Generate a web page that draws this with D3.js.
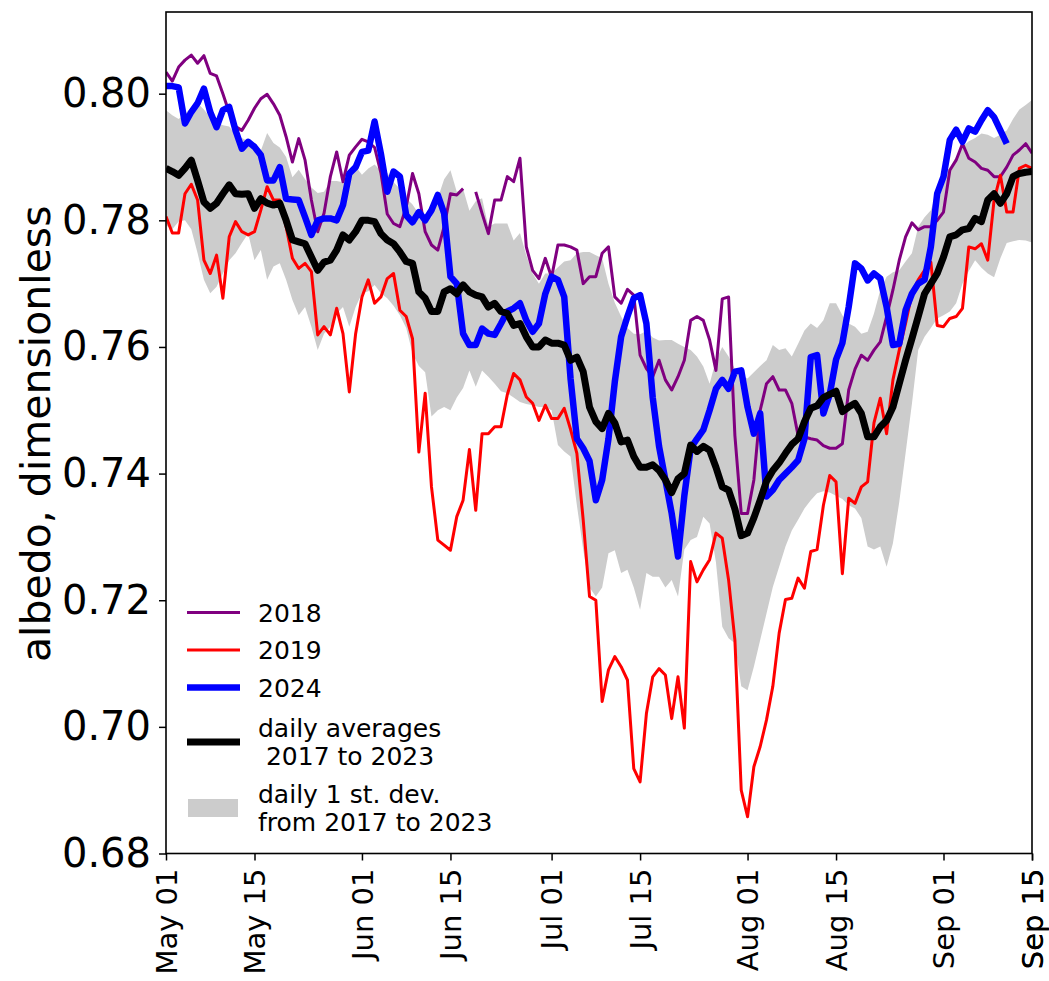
<!DOCTYPE html>
<html lang="en">
  <head>
    <meta charset="UTF-8" />
    <title>albedo May to September</title>
    <style>
      body {
        margin: 0;
        background: #fff;
        font-family: "DejaVu Sans", sans-serif;
      }
      .tick line {
        stroke: #000;
        stroke-width: 1.5px;
      }
      .domain {
        display: none;
      }
    </style>
  </head>
  <body>
    <div id="chart"></div>
    <script src="https://d3js.org/d3.v7.min.js"></script>
    <script>
      // daily values, May 01 .. Sep 15 (138 days)
      const albedo2018 = [
        0.8034, 0.802, 0.8042, 0.8053, 0.8061, 0.8048, 0.806, 0.8032, 0.8028, 0.8,
        0.797, 0.7948, 0.7942, 0.7958, 0.7977, 0.7992, 0.7999, 0.7984, 0.7966, 0.7932,
        0.7892, 0.7929, 0.7895, 0.7832, 0.7782, 0.7811, 0.7869, 0.7908, 0.7861, 0.7903,
        0.7916, 0.7928, 0.7924, 0.7915, 0.7875, 0.781, 0.7795, 0.779, 0.7821, 0.7874,
        0.7842, 0.7782, 0.7761, 0.7753, 0.779, 0.7842, 0.784, 0.785, null, 0.7845,
        0.7811, 0.7779, 0.7832, 0.7832, 0.7869, 0.7861, 0.7898, 0.7758, 0.7721, 0.7708,
        0.774, 0.771, 0.7761, 0.7761, 0.7758, 0.7753, 0.77, 0.7711, 0.7711, 0.7748,
        0.7758, 0.7679, 0.7669, 0.7691, 0.7682, 0.7587, 0.7566, 0.7553, 0.7579, 0.7548,
        0.7532, 0.7553, 0.7579, 0.7642, 0.7648, 0.7642, 0.7611, 0.7563, 0.7676, 0.7679,
        0.746, 0.7337, 0.7337, 0.739, 0.75, 0.7542, 0.7553, 0.7532, 0.7532, 0.7511,
        0.746, 0.7458, 0.7455, 0.7453, 0.7444, 0.744, 0.744, 0.7447, 0.7532, 0.7565,
        0.7587, 0.7579, 0.7595, 0.7608, 0.7648, 0.769, 0.7737, 0.7774, 0.7796, 0.7785,
        0.779, 0.779, 0.78, 0.7813, 0.7879, 0.7895, 0.7921, 0.7898, 0.7892, 0.7882,
        0.7879, 0.7869, 0.7869, 0.7884, 0.7903, 0.7911, 0.7921, 0.7906
      ];

      const albedo2019 = [
        0.7806, 0.778, 0.778, 0.7842, 0.7857, 0.7832, 0.7737, 0.7716, 0.7745, 0.7677,
        0.7774, 0.7798, 0.7782, 0.7777, 0.7782, 0.7816, 0.7853, 0.7832, 0.7832, 0.779,
        0.774, 0.7724, 0.7732, 0.7719, 0.7619, 0.7632, 0.7619, 0.7661, 0.7621, 0.7529,
        0.7621, 0.7679, 0.7706, 0.7669, 0.7679, 0.7708, 0.7716, 0.7658, 0.7648, 0.7613,
        0.7434, 0.7527, 0.7379, 0.7295, 0.7287, 0.7279, 0.7332, 0.7358, 0.7438, 0.7342,
        0.7463, 0.7463, 0.7474, 0.7474, 0.7525, 0.7558, 0.7548, 0.7521, 0.7511, 0.7484,
        0.7508, 0.7487, 0.7487, 0.7503, 0.747, 0.7432, 0.7327, 0.7206, 0.72, 0.704,
        0.709, 0.7111, 0.7095, 0.7074, 0.6934, 0.6913, 0.7021, 0.7079, 0.7092, 0.7082,
        0.7013, 0.7079, 0.6998, 0.7261, 0.7229, 0.7248, 0.7264, 0.7306, 0.7298, 0.7232,
        0.7137, 0.69, 0.6858, 0.6937, 0.6969, 0.7011, 0.7064, 0.7148, 0.7201, 0.7203,
        0.7235, 0.7219, 0.7277, 0.728, 0.735, 0.7397, 0.7387, 0.7242, 0.7361, 0.7353,
        0.7379, 0.7387, 0.748, 0.7519, 0.7463, 0.7548, 0.7595, 0.7637, 0.7684, 0.7706,
        0.7721, 0.7734, 0.7634, 0.7632, 0.7645, 0.7648, 0.7661, 0.7758, 0.7755, 0.7763,
        0.7737, 0.7832, 0.7871, 0.7813, 0.7813, 0.7882, 0.7887, 0.7882
      ];

      const albedo2024 = [
        0.8012, 0.8012, 0.801, 0.7953, 0.7971, 0.7985, 0.8008, 0.7971, 0.7947, 0.7974,
        0.7979, 0.7942, 0.7913, 0.7924, 0.7916, 0.7903, 0.7863, 0.7863, 0.7884, 0.7834,
        0.7833, 0.7832, 0.7805, 0.7777, 0.78, 0.7803, 0.7803, 0.78, 0.7824, 0.7874,
        0.7884, 0.7908, 0.791, 0.7956, 0.7905, 0.7845, 0.7877, 0.7869, 0.7808, 0.7797,
        0.7813, 0.78, 0.7816, 0.784, 0.7811, 0.7711, 0.77, 0.7621, 0.7603, 0.7603,
        0.7629, 0.7621, 0.7619, 0.7637, 0.7656, 0.7661, 0.7669, 0.7642, 0.7624, 0.7637,
        0.7684, 0.7711, 0.7706, 0.7679, 0.755, 0.7455, 0.744, 0.742, 0.7358, 0.739,
        0.7455, 0.7545, 0.7616, 0.7648, 0.7677, 0.7682, 0.7637, 0.752, 0.7443, 0.739,
        0.7337, 0.7269, 0.7365, 0.744, 0.7455, 0.7469, 0.75, 0.7534, 0.7548, 0.7534,
        0.7561, 0.7563, 0.7505, 0.7463, 0.7495, 0.7364, 0.7374, 0.739, 0.74, 0.741,
        0.7421, 0.7455, 0.7584, 0.7587, 0.7495, 0.7525, 0.758, 0.7606, 0.7663, 0.7732,
        0.7724, 0.7705, 0.7716, 0.7708, 0.7663, 0.7603, 0.7605, 0.7658, 0.7684, 0.77,
        0.7706, 0.7758, 0.7842, 0.7869, 0.7927, 0.7943, 0.7924, 0.7945, 0.794, 0.7958,
        0.7974, 0.7963, 0.7942, 0.7921, null, null, null, null
      ];

      const dailyAverage = [
        0.7882, 0.7877, 0.7871, 0.7882, 0.7895, 0.7863, 0.7829, 0.7819, 0.7827, 0.7842,
        0.7856, 0.7842, 0.7841, 0.7842, 0.7819, 0.7834, 0.7827, 0.7824, 0.7827, 0.78,
        0.7769, 0.7766, 0.7763, 0.7742, 0.7721, 0.7734, 0.7737, 0.7753, 0.7777, 0.7769,
        0.7782, 0.78, 0.78, 0.7798, 0.7779, 0.7769, 0.7763, 0.775, 0.7735, 0.7732,
        0.7687, 0.7677, 0.7656, 0.7656, 0.7687, 0.7692, 0.7684, 0.7698, 0.7687, 0.7682,
        0.7679, 0.7663, 0.7669, 0.7656, 0.7653, 0.7634, 0.7637, 0.7616, 0.76, 0.76,
        0.7611, 0.7606, 0.7606, 0.7603, 0.7579, 0.7584, 0.7561, 0.7505, 0.7482, 0.7471,
        0.7495, 0.748, 0.745, 0.7453, 0.7427, 0.741, 0.741, 0.7414, 0.7405, 0.739,
        0.737, 0.7392, 0.74, 0.7445, 0.7435, 0.7443, 0.7437, 0.741, 0.7379, 0.7374,
        0.7344, 0.7302, 0.7306, 0.733, 0.7358, 0.7388, 0.7405, 0.7417, 0.7432, 0.7446,
        0.7455, 0.7482, 0.7503, 0.7507, 0.752, 0.7525, 0.753, 0.7498, 0.7505, 0.7511,
        0.7495, 0.7458, 0.7458, 0.7474, 0.7484, 0.7505, 0.7542, 0.7579, 0.7613, 0.7648,
        0.7684, 0.77, 0.7716, 0.7742, 0.7774, 0.7777, 0.7785, 0.7787, 0.7803, 0.7798,
        0.7832, 0.7842, 0.7827, 0.7842, 0.7869, 0.7874, 0.7876, 0.7877
      ];

      // mean + 1 st. dev. and mean - 1 st. dev.
      const bandHigh = [
        0.7974, 0.7966, 0.796, 0.7968, 0.7978, 0.7985, 0.7975, 0.7962, 0.7955, 0.795,
        0.7948, 0.7935, 0.793, 0.7925, 0.792, 0.791, 0.7938, 0.7922, 0.7915, 0.79,
        0.7868, 0.788, 0.7865, 0.7852, 0.7843, 0.7845, 0.7862, 0.7862, 0.786, 0.788,
        0.7885, 0.7872, 0.7882, 0.7888, 0.7878, 0.7875, 0.786, 0.785, 0.7835, 0.7825,
        0.781, 0.7795, 0.7805, 0.7835, 0.7865, 0.7879, 0.7845, 0.785, 0.7815, 0.783,
        0.7835, 0.779, 0.7795, 0.7795, 0.7795, 0.7768, 0.778, 0.7745, 0.7716, 0.77,
        0.7716, 0.7716, 0.7726, 0.7735, 0.7737, 0.7748, 0.775, 0.775, 0.7745, 0.774,
        0.77, 0.767, 0.7648, 0.763, 0.7621, 0.762, 0.7625, 0.7615, 0.761, 0.7611,
        0.7611, 0.7605, 0.76, 0.7595, 0.7585, 0.7569, 0.7542, 0.7579, 0.76, 0.7585,
        0.7565, 0.7555, 0.755, 0.756, 0.757, 0.7579, 0.7603, 0.7595, 0.7598, 0.7585,
        0.7605, 0.7626, 0.7637, 0.763, 0.7642, 0.7669, 0.7669, 0.765, 0.7637, 0.7632,
        0.7621, 0.7624, 0.7653, 0.769, 0.7711, 0.7718, 0.7721, 0.7735, 0.7748, 0.779,
        0.7805, 0.7816, 0.7848, 0.787, 0.7884, 0.79, 0.7916, 0.7925, 0.793, 0.7937,
        0.7935, 0.793, 0.7935, 0.7942, 0.796, 0.7975, 0.7982, 0.799
      ];

      const bandLow = [
        0.7792, 0.7786, 0.7798, 0.78, 0.7786, 0.7748, 0.7706, 0.7685, 0.7695, 0.7716,
        0.7737, 0.7748, 0.7764, 0.7779, 0.7737, 0.7753, 0.7706, 0.7727, 0.7732, 0.7706,
        0.7674, 0.765, 0.7663, 0.7632, 0.7595, 0.7621, 0.7632, 0.7653, 0.7663, 0.7632,
        0.7663, 0.7685, 0.7688, 0.7698, 0.7685, 0.7677, 0.7665, 0.765, 0.763, 0.759,
        0.757, 0.756, 0.749, 0.75, 0.7505, 0.75, 0.752, 0.7535, 0.7563, 0.7537,
        0.7563, 0.7553, 0.7542, 0.753, 0.7527, 0.752, 0.7513, 0.751, 0.7508, 0.7505,
        0.7505, 0.75, 0.7445, 0.7435, 0.7427, 0.735, 0.728, 0.722, 0.7206, 0.722,
        0.7274, 0.7279, 0.7243, 0.7248, 0.722, 0.7185, 0.7243, 0.7237, 0.7237, 0.722,
        0.7232, 0.7206, 0.728, 0.7295, 0.73, 0.7332, 0.7321, 0.726, 0.7158, 0.714,
        0.7132, 0.7064, 0.7058, 0.7095, 0.7137, 0.7179, 0.7221, 0.7253, 0.7285, 0.731,
        0.7327, 0.7345, 0.7358, 0.7369, 0.7372, 0.737, 0.7365, 0.736, 0.735, 0.7345,
        0.733, 0.7285, 0.728, 0.7285, 0.7253, 0.729, 0.7355, 0.7432, 0.751, 0.7595,
        0.7616, 0.763, 0.7645, 0.765, 0.7656, 0.7669, 0.77, 0.772, 0.7737, 0.7725,
        0.7716, 0.771, 0.774, 0.7764, 0.7767, 0.7769, 0.7768, 0.7765
      ];

      const yTicks = [0.68, 0.7, 0.72, 0.74, 0.76, 0.78, 0.8];
      const xTickDates = [
        [4, 1], [4, 15], [5, 1], [5, 15], [6, 1],
        [6, 15], [7, 1], [7, 15], [8, 1], [8, 15]
      ];

      const legendLabels = [
        ["2018"],
        ["2019"],
        ["2024"],
        ["daily averages", " 2017 to 2023"],
        ["daily 1 st. dev.", "from 2017 to 2023"]
      ];

      const width = 1049;
      const height = 981;
      const plotLeft = 166, plotRight = 1032, plotTop = 12, plotBottom = 853.5;

      const start = new Date(Date.UTC(2024, 4, 1));
      const end = new Date(Date.UTC(2024, 8, 15));
      const days = d3.utcDay.range(start, d3.utcDay.offset(end, 1));

      const x = d3.scaleUtc().domain([start, end]).range([plotLeft, plotRight]);
      const y = d3.scaleLinear().domain([0.68, 0.8129]).range([plotBottom, plotTop]);

      const svg = d3.select("#chart")
        .append("svg")
        .attr("width", width)
        .attr("height", height)
        .style("font-family", '"DejaVu Sans", sans-serif');

      svg.append("defs").append("clipPath")
        .attr("id", "plot-clip")
        .append("rect")
        .attr("x", plotLeft).attr("y", plotTop)
        .attr("width", plotRight - plotLeft).attr("height", plotBottom - plotTop);

      const plot = svg.append("g").attr("clip-path", "url(#plot-clip)");

      // st. dev. band
      const band = d3.area()
        .x((d, i) => x(days[i]))
        .y0((d, i) => y(bandLow[i]))
        .y1((d, i) => y(bandHigh[i]));

      plot.append("path")
        .datum(bandHigh)
        .attr("fill", "#cccccc")
        .attr("d", band);

      const line = d3.line()
        .defined(d => d != null)
        .x((d, i) => x(days[i]))
        .y(d => y(d));

      const series = [
        { values: albedo2018, color: "#800080", width: 3 },
        { values: albedo2019, color: "#ff0000", width: 3 },
        { values: albedo2024, color: "#0000ff", width: 6.5 },
        { values: dailyAverage, color: "#000000", width: 7 }
      ];

      series.forEach(s => {
        plot.append("path")
          .datum(s.values)
          .attr("fill", "none")
          .attr("stroke", s.color)
          .attr("stroke-width", s.width)
          .attr("stroke-linejoin", "round")
          .attr("d", line);
      });

      // axes
      const yAxis = d3.axisLeft(y)
        .tickValues(yTicks)
        .tickFormat(d3.format(".2f"))
        .tickSizeInner(7)
        .tickPadding(8);

      svg.append("g")
        .attr("transform", `translate(${plotLeft},0)`)
        .call(yAxis)
        .call(g => g.selectAll("text")
          .attr("font-size", 40)
          .attr("fill", "#000")
          .style("font-family", '"DejaVu Sans", sans-serif'));

      const xAxis = d3.axisBottom(x)
        .tickValues(xTickDates.map(d => new Date(Date.UTC(2024, d[0], d[1]))).concat([end]))
        .tickFormat(d3.utcFormat("%b %d"))
        .tickSizeInner(7)
        .tickPadding(8);

      svg.append("g")
        .attr("transform", `translate(0,${plotBottom})`)
        .call(xAxis)
        .call(g => g.selectAll("text")
          .attr("font-size", 29)
          .attr("fill", "#000")
          .style("font-family", '"DejaVu Sans", sans-serif')
          .attr("text-anchor", "end")
          .attr("transform", "rotate(-90)")
          .attr("x", -15)
          .attr("y", 0)
          .attr("dy", "0.35em"));

      svg.append("rect")
        .attr("x", plotLeft).attr("y", plotTop)
        .attr("width", plotRight - plotLeft).attr("height", plotBottom - plotTop)
        .attr("fill", "none")
        .attr("stroke", "#000")
        .attr("stroke-width", 1.6);

      svg.append("text")
        .attr("transform", `translate(50,${(plotTop + plotBottom) / 2 + 1}) rotate(-90)`)
        .attr("text-anchor", "middle")
        .attr("font-size", 41)
        .text("albedo, dimensionless");

      // legend
      const legendRows = [612.5, 650, 687.5, 742, 808];
      const legend = svg.append("g");

      legendLabels.forEach((lines, i) => {
        const ry = legendRows[i];
        if (i < 4) {
          legend.append("line")
            .attr("x1", 187).attr("x2", 240)
            .attr("y1", ry).attr("y2", ry)
            .attr("stroke", series[i].color)
            .attr("stroke-width", series[i].width);
        } else {
          legend.append("rect")
            .attr("x", 188).attr("y", ry - 9)
            .attr("width", 50).attr("height", 18)
            .attr("fill", "#cccccc");
        }
        const t = legend.append("text")
          .attr("font-size", 25)
          .attr("x", 258)
          .attr("y", ry + 9 - (lines.length - 1) * 14)
          .style("white-space", "pre");
        lines.forEach((s, k) => {
          t.append("tspan")
            .attr("x", 258)
            .attr("dy", k === 0 ? 0 : 28)
            .text(s);
        });
      });
    </script>
  </body>
</html>
